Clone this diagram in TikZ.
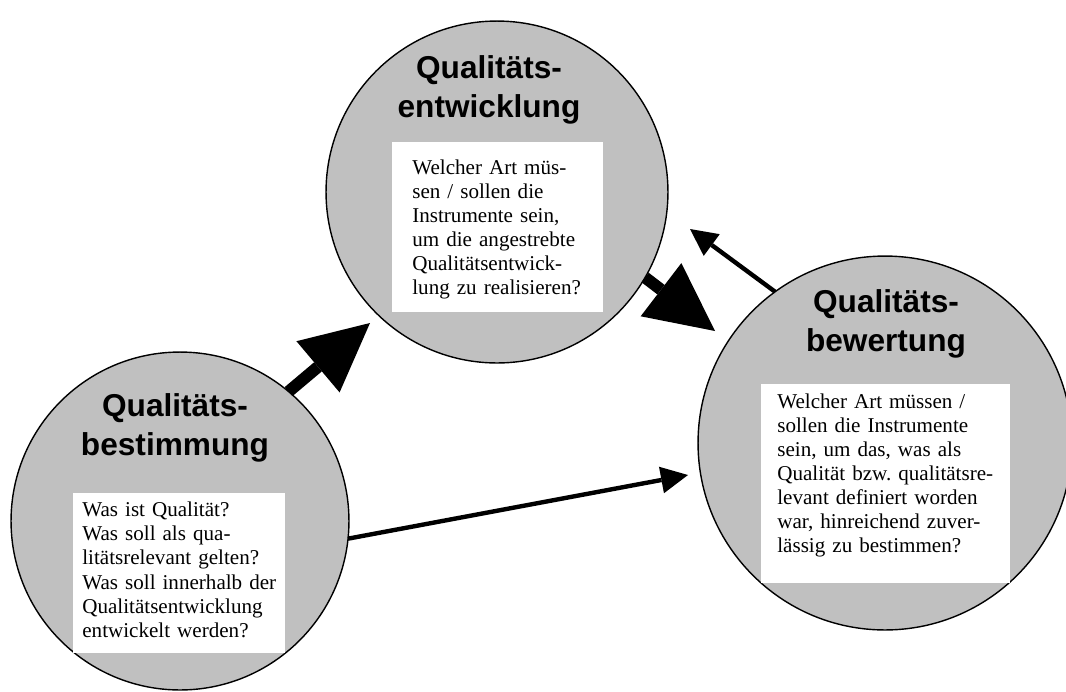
\documentclass[tikz,border=0pt]{standalone}
\usepackage{fontspec}
\setmainfont{Liberation Serif}
\setsansfont{Liberation Sans}
\usepackage{xcolor}
\usepackage{tikz}
\usetikzlibrary{arrows.meta,positioning}
\definecolor{kreisgrau}{RGB}{192,192,192}
\tikzset{
  kreis/.style={circle, draw=black, line width=0.8pt, fill=kreisgrau, inner sep=0pt, outer sep=0pt},
  titel/.style={align=center, inner sep=0pt, font=\sffamily\bfseries\fontsize{18}{22}\selectfont},
  frage/.style={fill=white, anchor=north west, align=left, inner ysep=0pt, font=\fontsize{12}{13.7}\selectfont},
  dick/.style={line width=6.8pt, -{Triangle[length=1.36cm, width=1.34cm, line width=0pt]}},
  duenn/.style={line width=2.5pt, -{Triangle[length=0.54cm, width=0.54cm, line width=0pt]}}
}

\begin{document}
\begin{tikzpicture}[x=0.02cm, y=-0.02cm]
    \useasboundingbox (0,0) rectangle (1066,691);
    \node (B) [kreis, minimum size=6.76cm] at (180,521) {};
    \node (E) [kreis, minimum size=6.84cm] at (497,192) {};
    \node (W) [kreis, minimum size=7.48cm] at (885,443) {};
    \node (Bt) [titel] at (175,428) {Qualitäts-\\bestimmung};
    \node (Et) [titel] at (489,90) {Qualitäts-\\entwicklung};
    \node (Wt) [titel] at (886,324) {Qualitäts-\\bewertung};
    \node (Bf) [frage, inner xsep=0.18cm, text width=3.88cm, text height=0.47cm, text depth=2.73cm] at (73,493)
    {Was ist Qualität?\\Was soll als qua-\\litätsrelevant gelten?\\Was soll innerhalb der\\Qualitätsentwicklung\\entwickelt werden?};
    \node (Ef) [frage, inner xsep=0.4cm, text width=3.42cm, text height=0.64cm, text depth=2.76cm] at (392,142)
    {Welcher Art müs-\\sen / sollen die\\Instrumente sein,\\um die angestrebte\\Qualitätsentwick-\\lung zu realisieren?};
    \node (Wf) [frage, inner xsep=0.32cm, text width=4.34cm, text height=0.48cm, text depth=3.5cm] at (761,384)
    {Welcher Art müssen /\\sollen die Instrumente\\sein, um das, was als\\Qualität~bzw.~qualitätsre-\\levant definiert worden\\war, hinreichend zuver-\\lässig zu bestimmen?};
    \coordinate (tA) at (370,323);
    \coordinate (tB) at (715,331);
    \coordinate (tC) at (690,229);
    \coordinate (tD) at (688,475);
    \path (B.50) edge [dick] (tA);
    \path (E.-30) edge [dick] (tB);
    \path (W.126) edge [duenn] (tC);
    \path (B.-6) edge [duenn] (tD);
\end{tikzpicture}
\end{document}
